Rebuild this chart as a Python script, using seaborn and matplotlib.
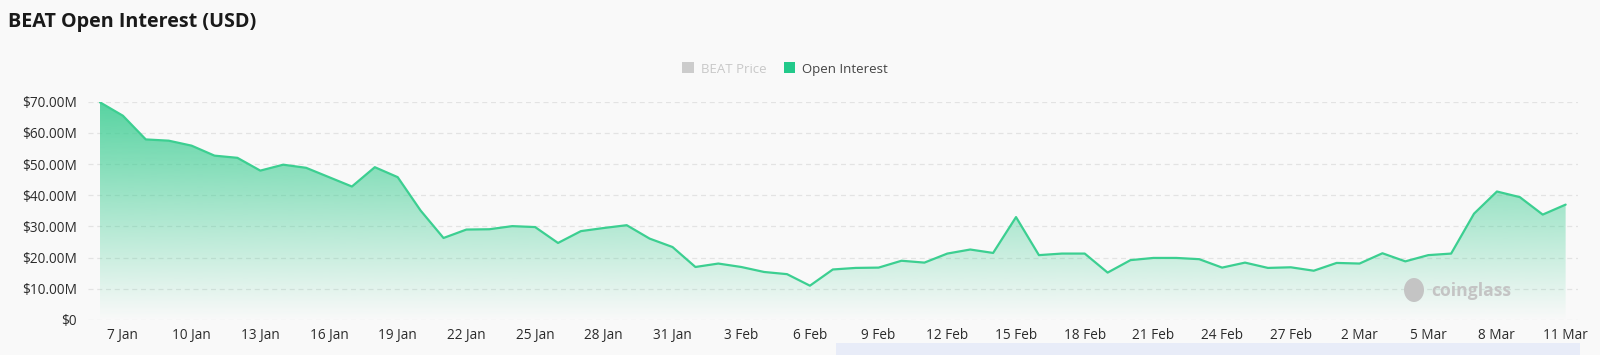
import numpy as np
import pandas as pd
import matplotlib
matplotlib.use("Agg")
import matplotlib.pyplot as plt
import matplotlib.dates as mdates
from matplotlib.patches import Patch, Rectangle, Ellipse
import seaborn as sns

# ---- data (daily open interest, millions USD, from 6 Jan to 11 Mar) ----
start_date = "2026-01-06"
open_interest_m = [
    69.8, 65.5, 57.9, 57.5, 55.9, 52.7, 52.0, 47.9, 49.8, 48.8,
    45.8, 42.8, 49.0, 45.8, 35.1, 26.3, 29.0, 29.1, 30.1, 29.8,
    24.7, 28.5, 29.5, 30.4, 26.1, 23.4, 17.0, 18.1, 17.0, 15.4,
    14.7, 11.0, 16.2, 16.7, 16.8, 19.0, 18.4, 21.3, 22.6, 21.5,
    33.0, 20.8, 21.3, 21.3, 15.2, 19.2, 19.9, 19.9, 19.5, 16.8,
    18.4, 16.7, 16.9, 15.8, 18.3, 18.1, 21.4, 18.8, 20.8, 21.3,
    34.1, 41.2, 39.4, 33.8, 37.0,
]
y_ticks_m = [0, 10, 20, 30, 40, 50, 60, 70]
y_tick_labels = ["$0", "$10.00M", "$20.00M", "$30.00M", "$40.00M",
                 "$50.00M", "$60.00M", "$70.00M"]
legend_labels = ["BEAT Price", "Open Interest"]
title = "BEAT Open Interest (USD)"

dates = pd.date_range(start_date, periods=len(open_interest_m), freq="D")
df = pd.DataFrame({"date": dates, "oi": np.array(open_interest_m) * 1e6})

# ---- style ----
sns.set_theme(style="white")
plt.rcParams["font.family"] = ["Open Sans", "DejaVu Sans"]
BG = "#f9f9f9"
LINE = "#3ccf91"
FILL = np.array([58, 205, 145]) / 255.0

fig = plt.figure(figsize=(16, 3.55), dpi=100, facecolor=BG)
ax = fig.add_axes([88 / 1600, 35 / 355, 1490 / 1600, 218.3 / 355])
ax.set_facecolor(BG)

# line
sns.lineplot(data=df, x="date", y="oi", ax=ax, color=LINE, linewidth=1.6,
             legend=False, zorder=3)
for l in ax.get_lines():
    l.set_solid_joinstyle("round")

# gradient fill under the line
x_num = mdates.date2num(df["date"])
xmin = x_num[0] - 0.524
xmax = x_num[0] + 64.54
ymax = 70e6
poly = ax.fill_between(df["date"], 0, df["oi"], color="none", lw=0)
n = 256
grad = np.zeros((n, 1, 4))
grad[:, 0, :3] = FILL
grad[:, 0, 3] = np.linspace(0.85, 0.0, n)
img = ax.imshow(grad, aspect="auto", extent=[x_num[0], x_num[-1], 0, ymax],
                origin="upper", zorder=2, interpolation="bilinear")
path = poly.get_paths()[0]
img.set_clip_path(path, transform=ax.transData)

ax.set_xlim(xmin, xmax)
ax.set_ylim(0, ymax)

# grid
for v in y_ticks_m:
    ax.axhline(v * 1e6, color="#e3e3e3", lw=0.9, ls=(0, (4, 3)), zorder=1)

ax.set_yticks([v * 1e6 for v in y_ticks_m])
ax.set_yticklabels(y_tick_labels)
tick_dates = pd.date_range(dates[1], dates[-1], freq="3D")
ax.set_xticks(tick_dates)
ax.set_xticklabels([f"{d.day} {d.strftime('%b')}" for d in tick_dates])
ax.tick_params(axis="both", length=0, labelsize=9.8, labelcolor="#2b2b2b")
ax.tick_params(axis="y", pad=8)
ax.tick_params(axis="x", pad=6)
ax.set_xlabel("")
ax.set_ylabel("")
for s in ax.spines.values():
    s.set_visible(False)

# watermark
fig.text(1471 / 1600, 1 - 291 / 355, "coinglass", fontsize=12.6,
         fontweight="bold", color="#c4c4c4", ha="center", va="center",
         zorder=5)
fig.patches.append(Ellipse((1414 / 1600, 1 - 290 / 355), 20 / 1600, 24 / 355,
                           transform=fig.transFigure, facecolor="#c4c4c4",
                           edgecolor="none", zorder=5))

# title
fig.text(8 / 1600, 1 - 22 / 355, title, fontsize=14.2, fontweight="bold",
         color="#1a1a1a", ha="left", va="center")

# legend
handles = [Patch(facecolor="#cccccc", edgecolor="none"),
           Patch(facecolor="#22c98a", edgecolor="none")]
leg = fig.legend(handles, legend_labels, loc="center",
                 bbox_to_anchor=(785 / 1600, 1 - 69 / 355), ncol=2,
                 frameon=False, fontsize=9.5, handlelength=0.9,
                 handleheight=0.9, handletextpad=0.5, columnspacing=1.3,
                 labelcolor=["#c8c8c8", "#444444"])

# bottom slider strip
fig.patches.append(Rectangle((836 / 1600, 0), (1580 - 836) / 1600,
                             12.3 / 355, transform=fig.transFigure,
                             facecolor="#e8ecf8", edgecolor="none"))

fig.savefig("out.png", dpi=100, facecolor=BG)
